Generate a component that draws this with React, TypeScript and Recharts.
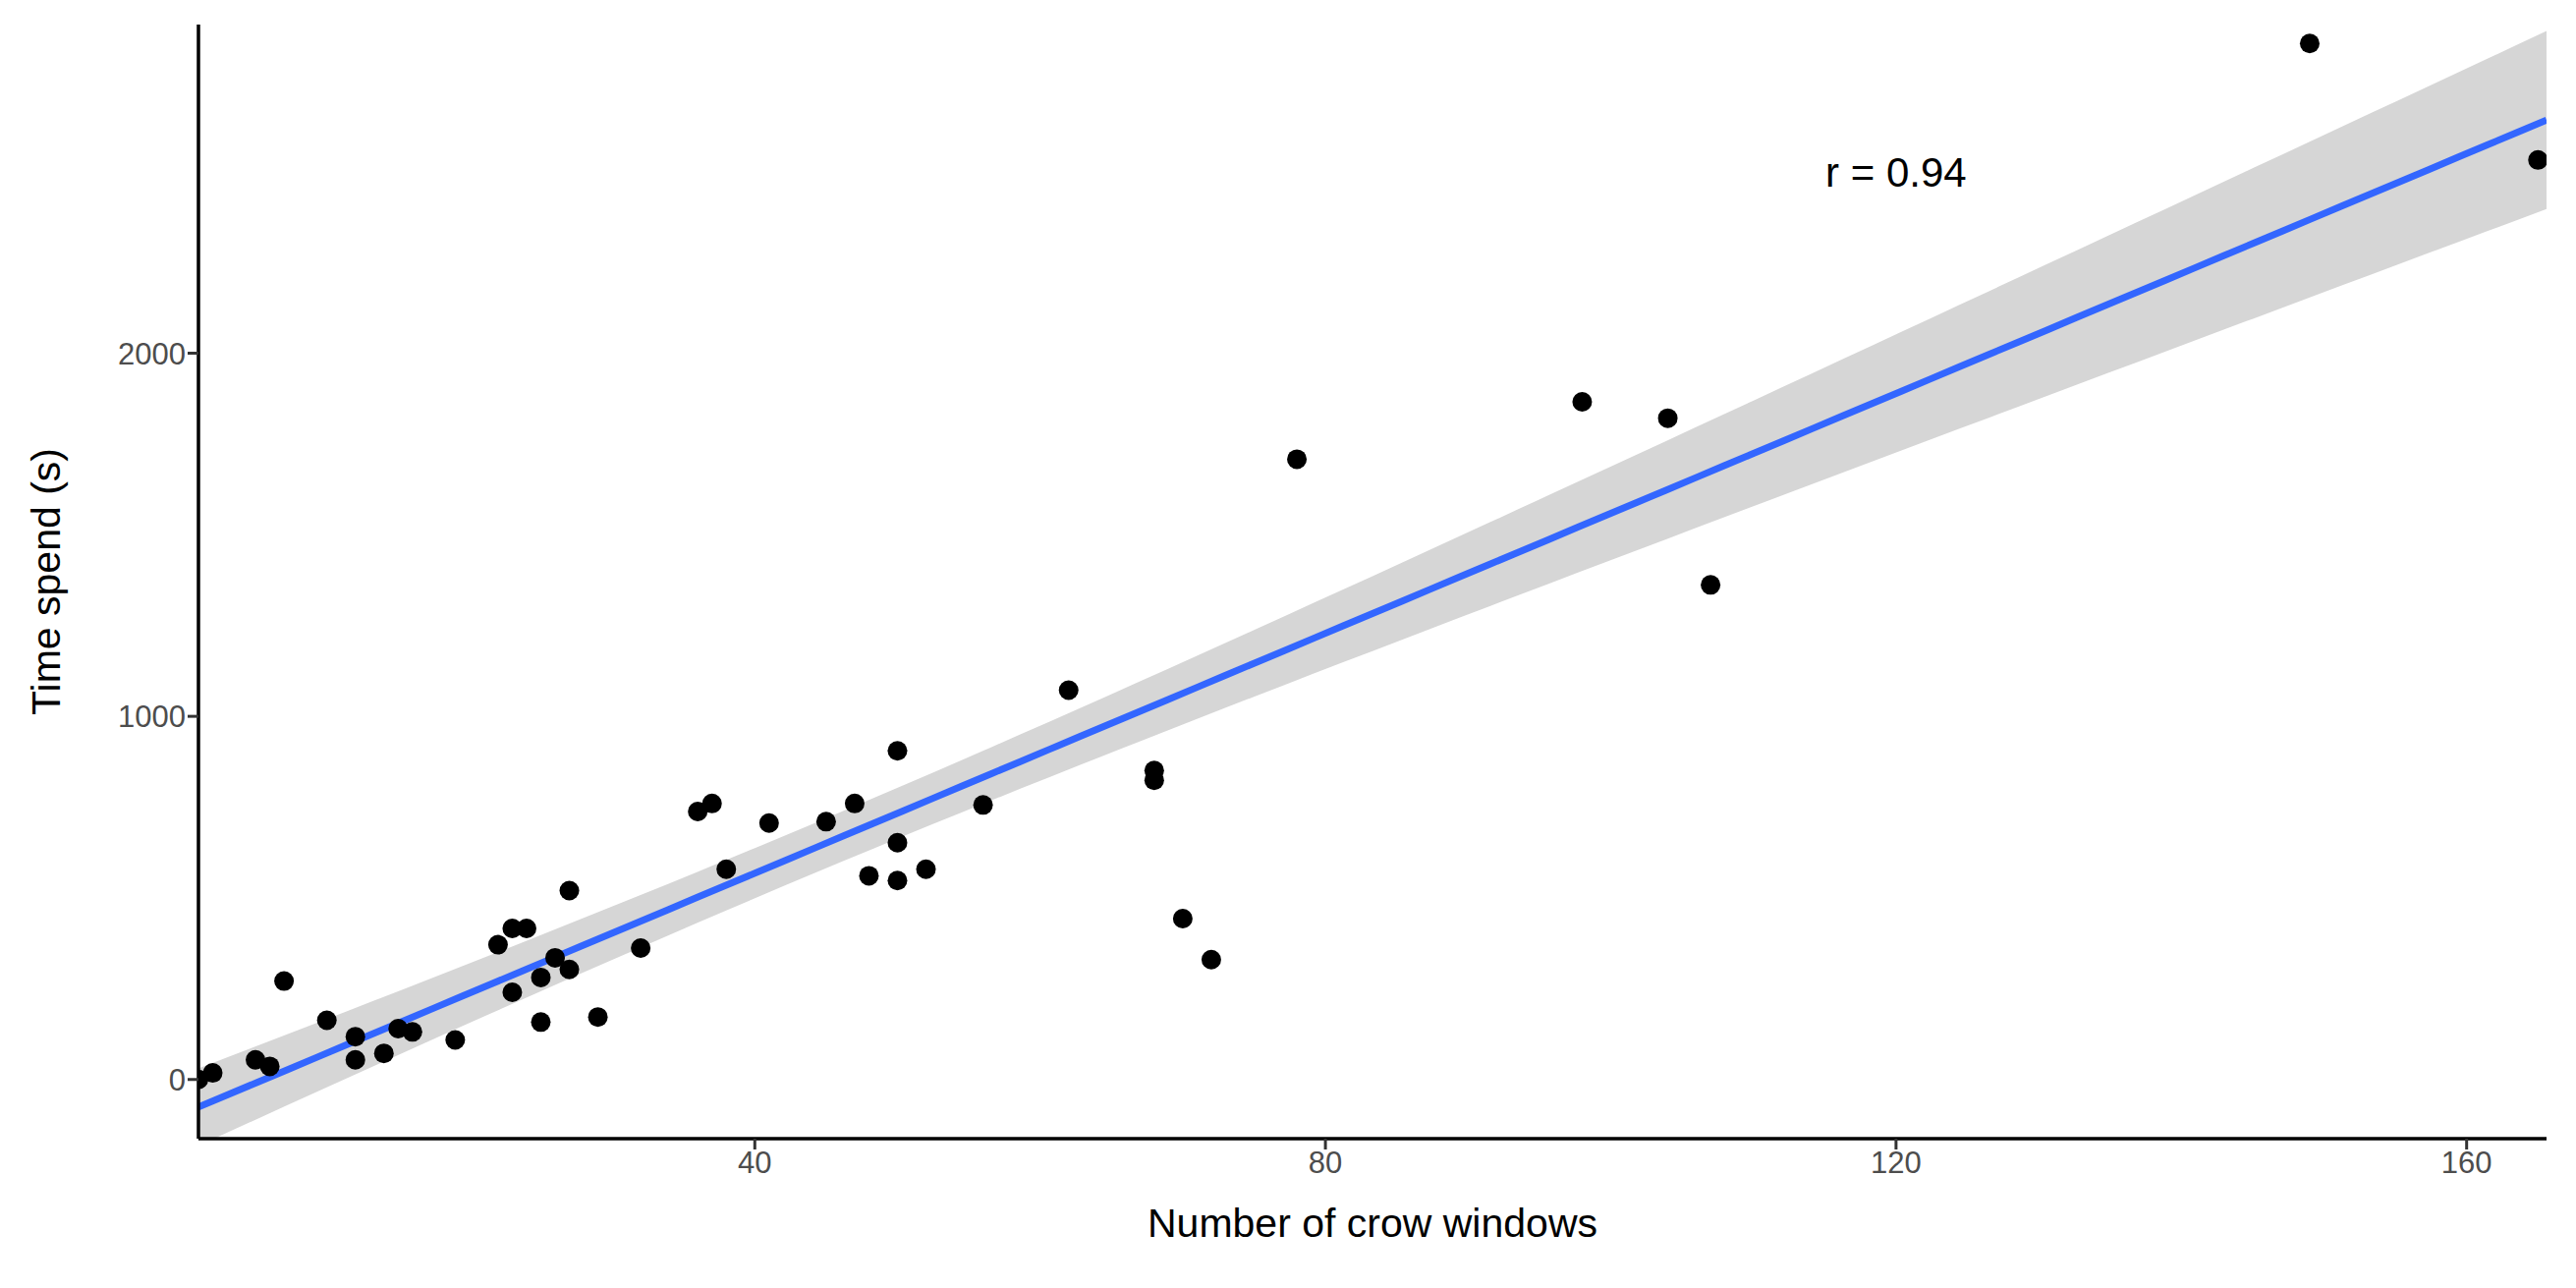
import React from 'react';
import {
  ComposedChart, Area, Line, Scatter, XAxis, YAxis, ReferenceDot, Label,
} from 'recharts';

const WINDOWS = [1, 2, 5, 6, 7, 10, 12, 12, 14, 15, 16, 19, 22, 23, 24, 23, 25, 25, 26, 27, 27, 29, 32,
  36, 37, 38, 41, 45, 47, 48, 50, 50, 50, 52, 56, 62, 68, 68, 70, 72, 78, 98, 104, 107, 149, 165];
const SECONDS = [0, 18, 54, 36, 271, 163, 118, 54, 72, 140, 131, 109, 371, 416, 416, 240, 281, 158, 335, 303, 520, 172, 362,
  738, 760, 579, 706, 710, 760, 561, 905, 652, 548, 579, 756, 1072, 851, 824, 443, 330, 1708, 1866, 1821, 1362, 2853, 2532];
const X_TICKS = [40, 80, 120, 160];
const Y_TICKS = [0, 1000, 2000];
const X_DOMAIN = [1, 165.6];
const Y_DOMAIN = [-163, 2905];

const points = WINDOWS.map((x, i) => ({ x, y: SECONDS[i] }));

// linear fit + 95% confidence band, like geom_smooth(method = "lm")
const n = points.length;
const mx = WINDOWS.reduce((a, b) => a + b, 0) / n;
const my = SECONDS.reduce((a, b) => a + b, 0) / n;
const sxx = WINDOWS.reduce((a, x) => a + (x - mx) ** 2, 0);
const sxy = points.reduce((a, p) => a + (p.x - mx) * (p.y - my), 0);
const slope = sxy / sxx;
const icpt = my - slope * mx;
const sse = points.reduce((a, p) => a + (p.y - icpt - slope * p.x) ** 2, 0);
const s = Math.sqrt(sse / (n - 2));
const T = 2.015;

const fit = Array.from({ length: 81 }, (_, i) => {
  const x = X_DOMAIN[0] + ((X_DOMAIN[1] - X_DOMAIN[0]) * i) / 80;
  const yhat = icpt + slope * x;
  const se = s * Math.sqrt(1 / n + (x - mx) ** 2 / sxx);
  return { x, fit: yhat, band: [yhat - T * se, yhat + T * se] };
});

const tick = { fontSize: 31, fill: '#4d4d4d', fontFamily: 'Liberation Sans' };

export default function App() {
  return (
    <div style={{ position: 'absolute', left: 0, top: 0, background: '#fff', fontFamily: 'Liberation Sans' }}>
      <ComposedChart width={2622} height={1311} data={fit} margin={{ top: 25, right: 30, bottom: 0, left: 0 }}>
        <XAxis
          dataKey="x" type="number" domain={X_DOMAIN} allowDataOverflow ticks={X_TICKS}
          tick={tick} tickSize={11} height={152}
          axisLine={{ stroke: '#000', strokeWidth: 3.5 }} tickLine={{ stroke: '#333', strokeWidth: 3 }}
        >
          <Label value="Number of crow windows" position="insideBottom" offset={52} style={{ fontSize: 41, fill: '#000' }} />
        </XAxis>
        <YAxis
          type="number" domain={Y_DOMAIN} allowDataOverflow ticks={Y_TICKS}
          tick={tick} tickSize={11} width={202}
          axisLine={{ stroke: '#000', strokeWidth: 3.5 }} tickLine={{ stroke: '#333', strokeWidth: 3 }}
        >
          <Label value="Time spend (s)" angle={-90} position="insideLeft" offset={46} style={{ fontSize: 41, fill: '#000', textAnchor: 'middle' }} />
        </YAxis>
        <Area dataKey="band" stroke="none" fill="#d6d6d6" fillOpacity={1} isAnimationActive={false} />
        <Line dataKey="fit" stroke="#3366ff" strokeWidth={7} dot={false} isAnimationActive={false} />
        <Scatter data={points} dataKey="y" fill="#000" shape={(p: any) => <circle cx={p.cx} cy={p.cy} r={10} fill="#000" />} isAnimationActive={false} />
        <ReferenceDot x={120} y={2500} r={0} label={{ value: 'r = 0.94', position: 'center', fontSize: 42, fill: '#000' }} />
      </ComposedChart>
    </div>
  );
}
